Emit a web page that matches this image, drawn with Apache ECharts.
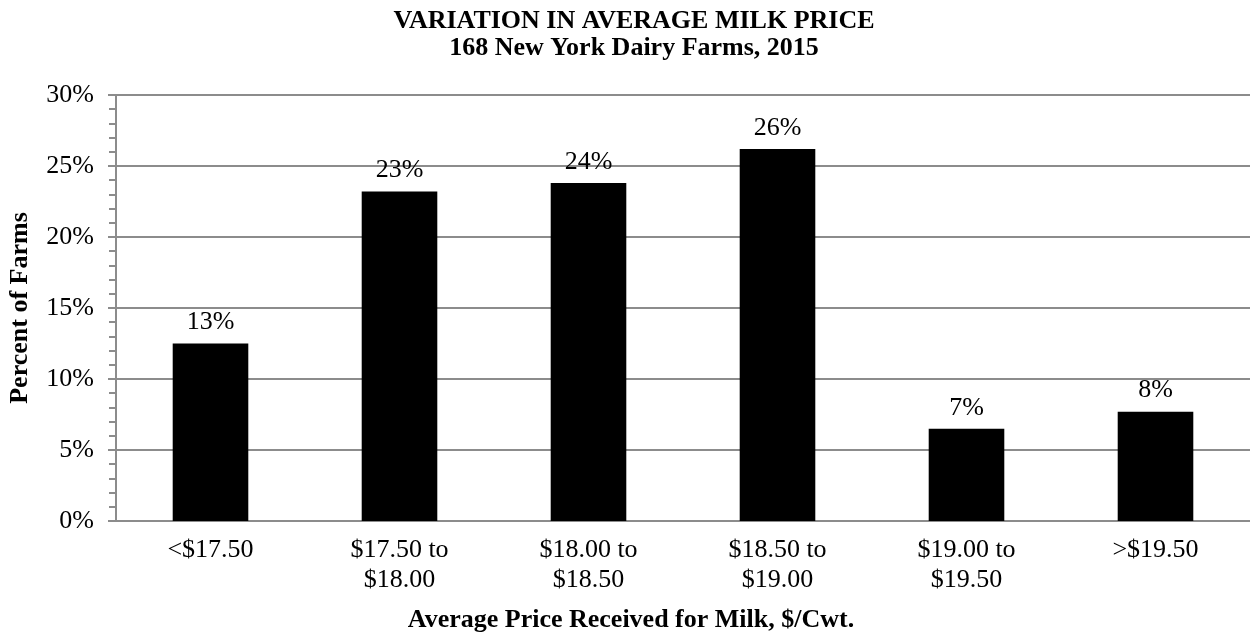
<!DOCTYPE html>
<html>
<head>
<meta charset="utf-8">
<script src="https://cdn.jsdelivr.net/npm/echarts@6/dist/echarts.min.js"></script>
<style>
  html, body { margin: 0; padding: 0; background: #fff; }
  #chart { width: 1250px; height: 639px; }
</style>
</head>
<body>
<div id="chart"></div>
<script>
  // price ranges, $/cwt
  const categories = ['<$17.50', '$17.50 to\n$18.00', '$18.00 to\n$18.50', '$18.50 to\n$19.00', '$19.00 to\n$19.50', '>$19.50']
  // percent of farms (bar heights)
  const percentFarms = [12.5, 23.2, 23.8, 26.2, 6.5, 7.7]
  // rounded labels printed above the bars
  const barLabels = ['13%', '23%', '24%', '26%', '7%', '8%']

  const serif = '"Liberation Serif", "DejaVu Serif", serif'
  const grey = '#8c8c8c'

  const chart = echarts.init(document.getElementById('chart'))
  const option = {
    animation: false,
    title: {
      text: 'VARIATION IN AVERAGE MILK PRICE\n168 New York Dairy Farms, 2015',
      left: 629,
      textAlign: 'center',
      top: 3,
      textStyle: {
        fontFamily: serif,
        fontWeight: 'bold',
        fontSize: 26,
        lineHeight: 27,
        color: '#000'
      }
    },
    grid: { left: 116, right: 0, top: 95, bottom: 118, containLabel: false, outerBoundsMode: 'none' },
    xAxis: {
      type: 'category',
      data: categories,
      name: 'Average Price Received for Milk, $/Cwt.',
      nameLocation: 'middle',
      nameGap: 86,
      // padding on the right pulls the name back under the title
      nameTextStyle: { fontFamily: serif, fontWeight: 'bold', fontSize: 26, color: '#000', padding: [0, 104, 0, 0] },
      axisLine: { lineStyle: { color: grey, width: 2 } },
      axisTick: { show: false },
      axisLabel: {
        fontFamily: serif,
        fontSize: 26,
        lineHeight: 30,
        color: '#000',
        margin: 14
      }
    },
    yAxis: {
      type: 'value',
      min: 0,
      max: 30,
      interval: 5,
      name: 'Percent of Farms',
      nameLocation: 'middle',
      nameGap: 83,
      nameTextStyle: { fontFamily: serif, fontWeight: 'bold', fontSize: 26, color: '#000' },
      axisLine: { show: true, lineStyle: { color: grey, width: 2 } },
      axisTick: { show: true, inside: false, length: 8, lineStyle: { color: grey, width: 2 } },
      minorTick: { show: true, splitNumber: 5, length: 7, lineStyle: { color: grey, width: 2 } },
      splitLine: { lineStyle: { color: grey, width: 2 } },
      axisLabel: {
        fontFamily: serif,
        fontSize: 26,
        color: '#000',
        margin: 22,
        formatter: v => v + '%'
      }
    },
    series: [{
      type: 'bar',
      data: percentFarms,
      barWidth: '40%',
      itemStyle: { color: '#000' },
      label: {
        show: true,
        position: 'top',
        distance: 8,
        fontFamily: serif,
        fontSize: 26,
        color: '#000',
        formatter: p => barLabels[p.dataIndex]
      }
    }]
  }
  chart.setOption(option)
</script>
</body>
</html>
